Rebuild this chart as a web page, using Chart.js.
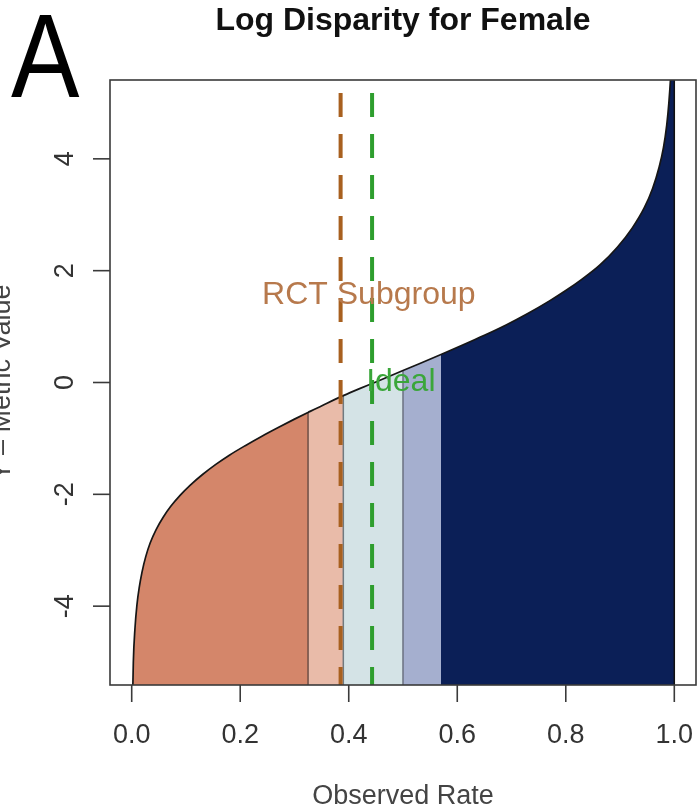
<!DOCTYPE html>
<html>
<head>
<meta charset="utf-8">
<title>Log Disparity for Female</title>
<script src="https://cdn.jsdelivr.net/npm/chart.js@4.4.1/dist/chart.umd.min.js"></script>
<style>
  html, body { margin: 0; padding: 0; background: #fff; }
  canvas { display: block; }
</style>
</head>
<body>
<canvas id="chart" width="698" height="811"></canvas>
<script>
// curve (observed rate -> Y metric value)
var rateX   = [0.001, 0.003, 0.006, 0.0096, 0.014, 0.019, 0.026, 0.034, 0.045, 0.058,
               0.072, 0.09, 0.108, 0.13, 0.155, 0.18, 0.21, 0.24, 0.27, 0.30,
               0.325, 0.36, 0.39, 0.42, 0.45, 0.50, 0.53, 0.57, 0.61, 0.65,
               0.69, 0.73, 0.77, 0.80, 0.83, 0.862, 0.895, 0.923, 0.945, 0.96,
               0.972, 0.98, 0.986, 0.99, 0.994, 0.997, 1.0];
var metricY = [-6.0, -5.0, -4.4, -3.98, -3.66, -3.39, -3.11, -2.87, -2.63, -2.41,
               -2.215, -2.01, -1.835, -1.65, -1.465, -1.30, -1.125, -0.96, -0.805, -0.655,
               -0.535, -0.37, -0.235, -0.11, 0.01, 0.215, 0.335, 0.50, 0.67, 0.845,
               1.03, 1.235, 1.46, 1.645, 1.85, 2.095, 2.42, 2.77, 3.13, 3.47,
               3.85, 4.2, 4.6, 5.0, 5.6, 6.3, 6.3];

// shaded bands under the curve
var bandEdges  = [0, 0.325, 0.39, 0.50, 0.57, 1.0];
var bandColors = ['#d4866a', '#e9bba9', '#d4e3e6', '#a5afcf', '#0b1f57'];
// edges that get a thin outline
var edgeLines  = [0.325, 0.39, 0.50, 1.0];
var edgeColors = ['#6e4e44', '#707a80', '#6b7180', '#111111'];

var rctRate   = 0.385;
var idealRate = 0.443;

var xTicks = [0, 0.2, 0.4, 0.6, 0.8, 1.0];
var xTickLabels = ['0.0', '0.2', '0.4', '0.6', '0.8', '1.0'];
var yTicks = [-4, -2, 0, 2, 4];
var yTickLabels = ['-4', '-2', '0', '2', '4'];

var X_MIN = -0.04, X_MAX = 1.04;
var Y_MIN = -5.41, Y_MAX = 5.41;

var FONT = '"Liberation Sans", Arial, Helvetica, sans-serif';

function curvePoints(a, b) {
  var pts = [];
  for (var i = 0; i < rateX.length; i++) {
    if (rateX[i] >= a - 1e-9 && rateX[i] <= b + 1e-9) pts.push({ x: rateX[i], y: metricY[i] });
  }
  return pts;
}

function curveAt(v) {
  var i = rateX.indexOf(v);
  return i >= 0 ? Math.min(metricY[i], Y_MAX) : Y_MAX;
}

var datasets = [];

// filled bands
for (var b = 0; b < bandColors.length; b++) {
  datasets.push({
    data: curvePoints(bandEdges[b], bandEdges[b + 1]),
    fill: 'start',
    backgroundColor: bandColors[b],
    borderWidth: 0,
    pointRadius: 0,
    cubicInterpolationMode: 'monotone',
    order: 10
  });
}

// band outlines
edgeLines.forEach(function (e, i) {
  datasets.push({
    data: [{ x: e, y: Y_MIN }, { x: e, y: curveAt(e) }],
    borderColor: edgeColors[i],
    borderWidth: 1.5,
    pointRadius: 0,
    fill: false,
    order: 8
  });
});

// the curve itself
datasets.push({
  data: curvePoints(0, 1),
  borderColor: '#161616',
  borderWidth: 1.7,
  pointRadius: 0,
  fill: false,
  cubicInterpolationMode: 'monotone',
  order: 6
});

// RCT subgroup and ideal reference lines
datasets.push({
  data: [{ x: rctRate, y: Y_MAX }, { x: rctRate, y: Y_MIN }],
  borderColor: '#a8601f',
  borderWidth: 4,
  borderDash: [24, 17],
  borderDashOffset: 28,
  pointRadius: 0,
  fill: false,
  order: 4
});
datasets.push({
  data: [{ x: idealRate, y: Y_MAX }, { x: idealRate, y: Y_MIN }],
  borderColor: '#2e9e2e',
  borderWidth: 4,
  borderDash: [24, 17],
  borderDashOffset: 28,
  pointRadius: 0,
  fill: false,
  order: 3
});

var decorations = {
  id: 'decorations',
  afterDatasetsDraw: function (chart) {
    var ctx = chart.ctx, xs = chart.scales.x, ys = chart.scales.y;
    ctx.save();
    ctx.font = '32px ' + FONT;
    ctx.textAlign = 'center';
    ctx.textBaseline = 'middle';
    ctx.fillStyle = '#b7794c';
    ctx.fillText('RCT Subgroup', xs.getPixelForValue(0.437), ys.getPixelForValue(1.56));
    ctx.fillStyle = '#3aa63a';
    ctx.fillText('Ideal', xs.getPixelForValue(0.496), ys.getPixelForValue(0.0));
    ctx.restore();
  },
  afterDraw: function (chart) {
    var ctx = chart.ctx, a = chart.chartArea, xs = chart.scales.x, ys = chart.scales.y;
    ctx.save();

    // box
    ctx.strokeStyle = '#3a3a3a';
    ctx.lineWidth = 1.6;
    ctx.strokeRect(a.left, a.top, a.right - a.left, a.bottom - a.top);

    // x axis
    ctx.font = '27px ' + FONT;
    ctx.fillStyle = '#333';
    ctx.textAlign = 'center';
    ctx.textBaseline = 'middle';
    xTicks.forEach(function (v, i) {
      var px = xs.getPixelForValue(v);
      ctx.beginPath();
      ctx.moveTo(px, a.bottom);
      ctx.lineTo(px, a.bottom + 17);
      ctx.stroke();
      ctx.fillText(xTickLabels[i], px, 736);
    });

    // y axis, labels turned like base R
    yTicks.forEach(function (v, i) {
      var py = ys.getPixelForValue(v);
      ctx.beginPath();
      ctx.moveTo(a.left - 17, py);
      ctx.lineTo(a.left, py);
      ctx.stroke();
      ctx.save();
      ctx.translate(66, py);
      ctx.rotate(-Math.PI / 2);
      ctx.fillText(yTickLabels[i], 0, 0);
      ctx.restore();
    });

    // axis titles
    ctx.fillStyle = '#444';
    ctx.fillText('Observed Rate', (a.left + a.right) / 2, 797);
    ctx.save();
    ctx.translate(10, (a.top + a.bottom) / 2);
    ctx.rotate(-Math.PI / 2);
    ctx.textBaseline = 'alphabetic';
    ctx.fillText('Y \u2013 Metric Value', 0, 0);
    ctx.restore();

    // main title
    ctx.fillStyle = '#111';
    ctx.font = 'bold 32px ' + FONT;
    ctx.textBaseline = 'alphabetic';
    ctx.fillText('Log Disparity for Female', (a.left + a.right) / 2, 30);

    // panel letter
    ctx.save();
    ctx.translate(11, 97);
    ctx.scale(0.87, 1);
    ctx.font = '118px ' + FONT;
    ctx.textAlign = 'left';
    ctx.fillStyle = '#000';
    ctx.fillText('A', 0, 0);
    ctx.restore();

    ctx.restore();
  }
};

new Chart(document.getElementById('chart').getContext('2d'), {
  type: 'line',
  data: { datasets: datasets },
  options: {
    responsive: false,
    animation: false,
    layout: { padding: { left: 110, right: 2, top: 80, bottom: 126 } },
    plugins: {
      legend: { display: false },
      tooltip: { enabled: false },
      title: { display: false }
    },
    scales: {
      x: { type: 'linear', min: X_MIN, max: X_MAX, display: false },
      y: { type: 'linear', min: Y_MIN, max: Y_MAX, display: false }
    }
  },
  plugins: [decorations]
});
</script>
</body>
</html>
